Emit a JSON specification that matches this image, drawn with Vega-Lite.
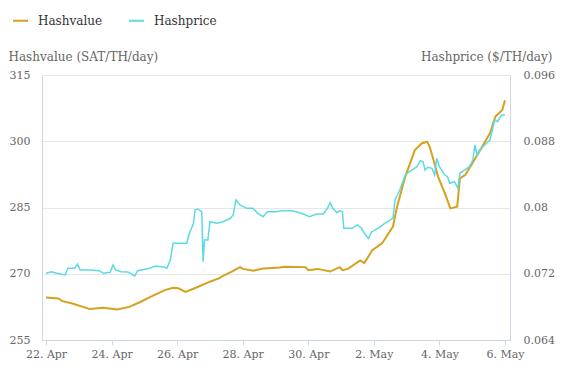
{
  "$schema": "https://vega.github.io/schema/vega-lite/v6.json",
  "width": 468,
  "height": 265,
  "autosize": {"type": "none"},
  "padding": {"left": 42, "top": 75, "right": 52, "bottom": 35},
  "background": "white",
  "config": {
    "font": "DejaVu Serif, Liberation Serif, serif",
    "view": {"stroke": null},
    "axis": {"labelFont": "DejaVu Serif, Liberation Serif, serif", "titleFont": "DejaVu Serif, Liberation Serif, serif", "labelColor": "#666666", "titleColor": "#666666", "labelFontSize": 11, "titleFontSize": 12, "titleFontWeight": "normal", "domainColor": "#ccd6eb", "tickColor": "#ccd6eb", "gridColor": "#e6e6e6"},
    "legend": {"labelFont": "DejaVu Serif, Liberation Serif, serif"}
  },
  "datasets": {
    "hv": [
      {"t": "2024-04-22T00:00Z", "v": 264.6},
      {"t": "2024-04-22T09:00Z", "v": 264.4},
      {"t": "2024-04-22T12:00Z", "v": 263.8},
      {"t": "2024-04-22T20:00Z", "v": 263.2},
      {"t": "2024-04-23T08:00Z", "v": 262.0},
      {"t": "2024-04-23T18:00Z", "v": 262.3},
      {"t": "2024-04-24T04:00Z", "v": 261.9},
      {"t": "2024-04-24T13:00Z", "v": 262.5},
      {"t": "2024-04-24T21:00Z", "v": 263.6},
      {"t": "2024-04-25T06:00Z", "v": 265.0},
      {"t": "2024-04-25T15:00Z", "v": 266.3},
      {"t": "2024-04-25T21:00Z", "v": 266.8},
      {"t": "2024-04-26T01:00Z", "v": 266.7},
      {"t": "2024-04-26T06:00Z", "v": 265.9},
      {"t": "2024-04-26T12:00Z", "v": 266.6},
      {"t": "2024-04-27T00:00Z", "v": 268.2},
      {"t": "2024-04-27T07:00Z", "v": 269.0},
      {"t": "2024-04-27T10:00Z", "v": 269.6},
      {"t": "2024-04-27T16:00Z", "v": 270.5},
      {"t": "2024-04-27T22:00Z", "v": 271.5},
      {"t": "2024-04-28T00:00Z", "v": 271.1},
      {"t": "2024-04-28T08:00Z", "v": 270.7},
      {"t": "2024-04-28T15:00Z", "v": 271.2},
      {"t": "2024-04-28T22:00Z", "v": 271.3},
      {"t": "2024-04-29T03:00Z", "v": 271.4},
      {"t": "2024-04-29T07:00Z", "v": 271.6},
      {"t": "2024-04-29T22:00Z", "v": 271.5},
      {"t": "2024-04-30T00:00Z", "v": 270.8},
      {"t": "2024-04-30T07:00Z", "v": 271.1},
      {"t": "2024-04-30T16:00Z", "v": 270.5},
      {"t": "2024-04-30T23:00Z", "v": 271.5},
      {"t": "2024-05-01T01:00Z", "v": 270.8},
      {"t": "2024-05-01T05:00Z", "v": 271.1},
      {"t": "2024-05-01T14:00Z", "v": 273.0},
      {"t": "2024-05-01T17:00Z", "v": 272.4},
      {"t": "2024-05-01T23:00Z", "v": 275.4},
      {"t": "2024-05-02T06:00Z", "v": 276.9},
      {"t": "2024-05-02T08:00Z", "v": 277.8},
      {"t": "2024-05-02T14:00Z", "v": 280.7},
      {"t": "2024-05-02T17:00Z", "v": 285.2},
      {"t": "2024-05-02T23:00Z", "v": 292.0},
      {"t": "2024-05-03T06:00Z", "v": 298.0},
      {"t": "2024-05-03T11:00Z", "v": 299.5},
      {"t": "2024-05-03T15:00Z", "v": 299.9},
      {"t": "2024-05-03T17:00Z", "v": 298.6},
      {"t": "2024-05-03T19:00Z", "v": 296.5},
      {"t": "2024-05-03T23:00Z", "v": 292.0},
      {"t": "2024-05-04T04:00Z", "v": 288.2},
      {"t": "2024-05-04T08:00Z", "v": 284.8},
      {"t": "2024-05-04T13:00Z", "v": 285.2},
      {"t": "2024-05-04T15:00Z", "v": 291.6},
      {"t": "2024-05-04T19:00Z", "v": 292.4},
      {"t": "2024-05-05T03:00Z", "v": 296.5},
      {"t": "2024-05-05T13:00Z", "v": 301.8},
      {"t": "2024-05-05T17:00Z", "v": 305.6},
      {"t": "2024-05-05T22:00Z", "v": 307.1},
      {"t": "2024-05-06T00:00Z", "v": 309.3}
    ],
    "hp": [
      {"t": "2024-04-22T00:00Z", "v": 0.07205},
      {"t": "2024-04-22T04:00Z", "v": 0.07225},
      {"t": "2024-04-22T08:00Z", "v": 0.07205},
      {"t": "2024-04-22T14:00Z", "v": 0.07185},
      {"t": "2024-04-22T16:00Z", "v": 0.07266},
      {"t": "2024-04-22T21:00Z", "v": 0.07266},
      {"t": "2024-04-22T23:00Z", "v": 0.07318},
      {"t": "2024-04-23T01:00Z", "v": 0.07245},
      {"t": "2024-04-23T08:00Z", "v": 0.07245},
      {"t": "2024-04-23T15:00Z", "v": 0.07237},
      {"t": "2024-04-23T18:00Z", "v": 0.07205},
      {"t": "2024-04-23T23:00Z", "v": 0.07217},
      {"t": "2024-04-24T01:00Z", "v": 0.07306},
      {"t": "2024-04-24T03:00Z", "v": 0.07245},
      {"t": "2024-04-24T07:00Z", "v": 0.07225},
      {"t": "2024-04-24T12:00Z", "v": 0.07221},
      {"t": "2024-04-24T17:00Z", "v": 0.07173},
      {"t": "2024-04-24T19:00Z", "v": 0.07237},
      {"t": "2024-04-25T04:00Z", "v": 0.07266},
      {"t": "2024-04-25T08:00Z", "v": 0.07294},
      {"t": "2024-04-25T15:00Z", "v": 0.07278},
      {"t": "2024-04-25T16:30Z", "v": 0.07266},
      {"t": "2024-04-25T19:00Z", "v": 0.07366},
      {"t": "2024-04-25T21:00Z", "v": 0.07568},
      {"t": "2024-04-26T02:00Z", "v": 0.07568},
      {"t": "2024-04-26T07:00Z", "v": 0.07568},
      {"t": "2024-04-26T09:00Z", "v": 0.07688},
      {"t": "2024-04-26T12:00Z", "v": 0.07809},
      {"t": "2024-04-26T13:00Z", "v": 0.07970},
      {"t": "2024-04-26T15:00Z", "v": 0.07982},
      {"t": "2024-04-26T18:00Z", "v": 0.07949},
      {"t": "2024-04-26T19:00Z", "v": 0.07345},
      {"t": "2024-04-26T20:00Z", "v": 0.07608},
      {"t": "2024-04-26T22:30Z", "v": 0.07608},
      {"t": "2024-04-27T00:00Z", "v": 0.07828},
      {"t": "2024-04-27T05:00Z", "v": 0.07809},
      {"t": "2024-04-27T09:30Z", "v": 0.07828},
      {"t": "2024-04-27T15:00Z", "v": 0.07870},
      {"t": "2024-04-27T17:00Z", "v": 0.07909},
      {"t": "2024-04-27T19:00Z", "v": 0.08091},
      {"t": "2024-04-27T22:00Z", "v": 0.08030},
      {"t": "2024-04-28T03:00Z", "v": 0.07990},
      {"t": "2024-04-28T07:30Z", "v": 0.07990},
      {"t": "2024-04-28T11:00Z", "v": 0.07930},
      {"t": "2024-04-28T15:00Z", "v": 0.07889},
      {"t": "2024-04-28T18:00Z", "v": 0.07949},
      {"t": "2024-04-29T00:00Z", "v": 0.07949},
      {"t": "2024-04-29T05:00Z", "v": 0.07961},
      {"t": "2024-04-29T12:00Z", "v": 0.07961},
      {"t": "2024-04-29T19:00Z", "v": 0.07930},
      {"t": "2024-04-30T01:00Z", "v": 0.07889},
      {"t": "2024-04-30T06:00Z", "v": 0.07921},
      {"t": "2024-04-30T11:00Z", "v": 0.07921},
      {"t": "2024-04-30T14:00Z", "v": 0.07990},
      {"t": "2024-04-30T16:00Z", "v": 0.08058},
      {"t": "2024-04-30T18:00Z", "v": 0.07990},
      {"t": "2024-04-30T21:00Z", "v": 0.07937},
      {"t": "2024-04-30T23:00Z", "v": 0.07961},
      {"t": "2024-05-01T01:00Z", "v": 0.07949},
      {"t": "2024-05-01T02:00Z", "v": 0.07749},
      {"t": "2024-05-01T08:00Z", "v": 0.07749},
      {"t": "2024-05-01T12:00Z", "v": 0.07789},
      {"t": "2024-05-01T15:00Z", "v": 0.07749},
      {"t": "2024-05-01T17:00Z", "v": 0.07688},
      {"t": "2024-05-01T20:00Z", "v": 0.07628},
      {"t": "2024-05-01T22:30Z", "v": 0.07708},
      {"t": "2024-05-02T03:00Z", "v": 0.07749},
      {"t": "2024-05-02T08:00Z", "v": 0.07809},
      {"t": "2024-05-02T14:00Z", "v": 0.07870},
      {"t": "2024-05-02T15:30Z", "v": 0.08091},
      {"t": "2024-05-02T19:00Z", "v": 0.08211},
      {"t": "2024-05-02T23:00Z", "v": 0.08392},
      {"t": "2024-05-03T02:00Z", "v": 0.08432},
      {"t": "2024-05-03T07:30Z", "v": 0.08493},
      {"t": "2024-05-03T10:00Z", "v": 0.08565},
      {"t": "2024-05-03T12:00Z", "v": 0.08553},
      {"t": "2024-05-03T13:30Z", "v": 0.08453},
      {"t": "2024-05-03T15:30Z", "v": 0.08485},
      {"t": "2024-05-03T18:30Z", "v": 0.08473},
      {"t": "2024-05-03T20:30Z", "v": 0.08392},
      {"t": "2024-05-03T22:00Z", "v": 0.08594},
      {"t": "2024-05-04T00:00Z", "v": 0.08493},
      {"t": "2024-05-04T04:00Z", "v": 0.08392},
      {"t": "2024-05-04T06:00Z", "v": 0.08372},
      {"t": "2024-05-04T07:30Z", "v": 0.08292},
      {"t": "2024-05-04T11:00Z", "v": 0.08311},
      {"t": "2024-05-04T13:30Z", "v": 0.08232},
      {"t": "2024-05-04T15:00Z", "v": 0.08413},
      {"t": "2024-05-04T18:30Z", "v": 0.08453},
      {"t": "2024-05-04T22:00Z", "v": 0.08493},
      {"t": "2024-05-05T00:30Z", "v": 0.08574},
      {"t": "2024-05-05T02:00Z", "v": 0.08755},
      {"t": "2024-05-05T03:30Z", "v": 0.08634},
      {"t": "2024-05-05T05:30Z", "v": 0.08694},
      {"t": "2024-05-05T10:30Z", "v": 0.08775},
      {"t": "2024-05-05T13:00Z", "v": 0.08815},
      {"t": "2024-05-05T16:30Z", "v": 0.09057},
      {"t": "2024-05-05T18:30Z", "v": 0.09036},
      {"t": "2024-05-05T21:30Z", "v": 0.09117},
      {"t": "2024-05-06T00:00Z", "v": 0.09117}
    ]
  },
  "encoding": {
    "x": {
      "field": "t", "type": "temporal",
      "scale": {"type": "utc", "domain": [{"year": 2024, "month": 4, "date": 21, "hours": 21, "minutes": 4, "utc": true}, {"year": 2024, "month": 5, "date": 6, "hours": 3, "minutes": 40, "utc": true}]},
      "axis": {
        "title": null, "format": "%-d. %b", "grid": false, "tickSize": 5, "labelPadding": 3,
        "values": [
          {"year": 2024, "month": 4, "date": 22, "utc": true},
          {"year": 2024, "month": 4, "date": 24, "utc": true},
          {"year": 2024, "month": 4, "date": 26, "utc": true},
          {"year": 2024, "month": 4, "date": 28, "utc": true},
          {"year": 2024, "month": 4, "date": 30, "utc": true},
          {"year": 2024, "month": 5, "date": 2, "utc": true},
          {"year": 2024, "month": 5, "date": 4, "utc": true},
          {"year": 2024, "month": 5, "date": 6, "utc": true}
        ]
      }
    }
  },
  "layer": [
    {
      "data": {"name": "hv"},
      "mark": {"type": "line", "strokeWidth": 2},
      "encoding": {
        "y": {
          "field": "v", "type": "quantitative",
          "scale": {"domain": [255, 315], "nice": false, "zero": false},
          "axis": {
            "values": [255, 270, 285, 300, 315], "title": "Hashvalue (SAT/TH/day)",
            "titleAngle": 0, "titleAlign": "left", "titleBaseline": "middle", "titleX": -34, "titleY": -19,
            "grid": true, "ticks": false, "labelPadding": 12
          }
        },
        "color": {
          "datum": "Hashvalue",
          "scale": {"domain": ["Hashvalue", "Hashprice"], "range": ["#d6a11c", "#5cdae3"]},
          "legend": {
            "title": null, "orient": "none", "legendX": -30, "legendY": -63, "direction": "horizontal",
            "symbolType": "stroke", "symbolSize": 225, "symbolStrokeWidth": 2, "labelFontSize": 12,
            "labelColor": "#333333", "columnPadding": 22, "labelOffset": 9
          }
        }
      }
    },
    {
      "data": {"name": "hp"},
      "mark": {"type": "line", "strokeWidth": 1.5},
      "encoding": {
        "y": {
          "field": "v", "type": "quantitative",
          "scale": {"domain": [0.064, 0.096], "nice": false, "zero": false},
          "axis": {
            "orient": "right", "values": [0.064, 0.072, 0.08, 0.088, 0.096], "format": ".3~f",
            "title": "Hashprice ($/TH/day)", "titleAngle": 0, "titleAlign": "right", "titleBaseline": "middle",
            "titleX": 42, "titleY": -19, "grid": false, "ticks": false, "labelPadding": 13
          }
        },
        "color": {"datum": "Hashprice"}
      }
    }
  ],
  "resolve": {"scale": {"y": "independent"}, "axis": {"y": "independent"}}
}
